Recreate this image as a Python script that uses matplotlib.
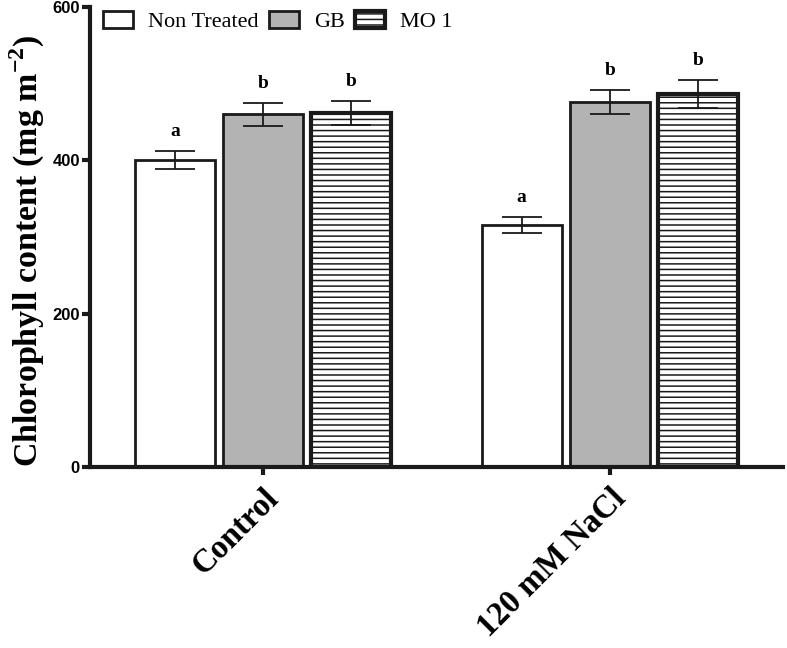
import matplotlib
matplotlib.use("Agg")
import matplotlib.pyplot as plt
import numpy as np

groups = ["Control", "120 mM NaCl"]
series = ["Non Treated", "GB", "MO 1"]
means = {
    "Non Treated": [401, 316],
    "GB": [460, 476],
    "MO 1": [462, 487],
}
errors = {
    "Non Treated": [12, 10],
    "GB": [15, 16],
    "MO 1": [16, 18],
}
letters = {
    "Non Treated": ["a", "a"],
    "GB": ["b", "b"],
    "MO 1": ["b", "b"],
}

styles = {
    "Non Treated": dict(color="white", hatch=None, lw=2.0),
    "GB": dict(color="#b3b3b3", hatch=None, lw=2.0),
    "MO 1": dict(color="white", hatch="---", lw=3.0),
}

serif = "Liberation Serif"
plt.rcParams["hatch.linewidth"] = 1.1
plt.rcParams["hatch.color"] = "#333333"
plt.rcParams["mathtext.fontset"] = "custom"
plt.rcParams["mathtext.rm"] = "Liberation Serif"
plt.rcParams["mathtext.bf"] = "Liberation Serif:bold"

fig = plt.figure(figsize=(7.87, 6.48), dpi=100)
ax = fig.add_axes([0.114, 0.279, 0.881, 0.71])

x = np.arange(len(groups))
width = 0.23
offsets = [-0.254, 0, 0.254]

for s, off in zip(series, offsets):
    st = styles[s]
    ax.bar(x + off, means[s], width, color=st["color"], edgecolor="#1a1a1a",
           linewidth=st["lw"], hatch=st["hatch"], label=s, zorder=2)
    ax.errorbar(x + off, means[s], yerr=errors[s], fmt="none", ecolor="#1a1a1a",
                elinewidth=1.3, capsize=14.5, capthick=1.3, zorder=3)
    for xi, m, e, lt in zip(x + off, means[s], errors[s], letters[s]):
        ax.text(xi, m + e + 14, lt, ha="center", va="bottom", family=serif,
                fontweight="bold", fontsize=14)

ax.set_xlim(-0.5, 1.5)
ax.set_ylim(0, 600)
ax.set_yticks([0, 200, 400, 600])
ax.set_xticks(x)
ax.set_xticklabels(groups, rotation=45, ha="right", rotation_mode="anchor",
                   family=serif, fontweight="bold", fontsize=23.5)
for lab in ax.get_yticklabels():
    lab.set_family("Liberation Sans")
    lab.set_fontweight("bold")
    lab.set_fontsize(12)

for sp in ["top", "right"]:
    ax.spines[sp].set_visible(False)
for sp in ["left", "bottom"]:
    ax.spines[sp].set_linewidth(3)
    ax.spines[sp].set_color("#1a1a1a")
ax.tick_params(axis="y", width=3, length=6, color="#1a1a1a", pad=1)
ax.tick_params(axis="x", width=3, length=6, color="#1a1a1a", pad=5)

ax.set_ylabel("Chlorophyll content (mg m$^{\\mathbf{-2}}$)", family=serif,
              fontweight="bold", fontsize=24.5)
ax.yaxis.set_label_coords(-0.062, 0.47)

leg = ax.legend(loc="upper left", bbox_to_anchor=(0.0, 1.02), ncol=3, frameon=False,
                prop={"family": serif, "size": 16}, handlelength=1.35,
                handleheight=0.75, columnspacing=0.45, handletextpad=0.68,
                borderaxespad=0.2)

fig.savefig("out.png", dpi=100)
